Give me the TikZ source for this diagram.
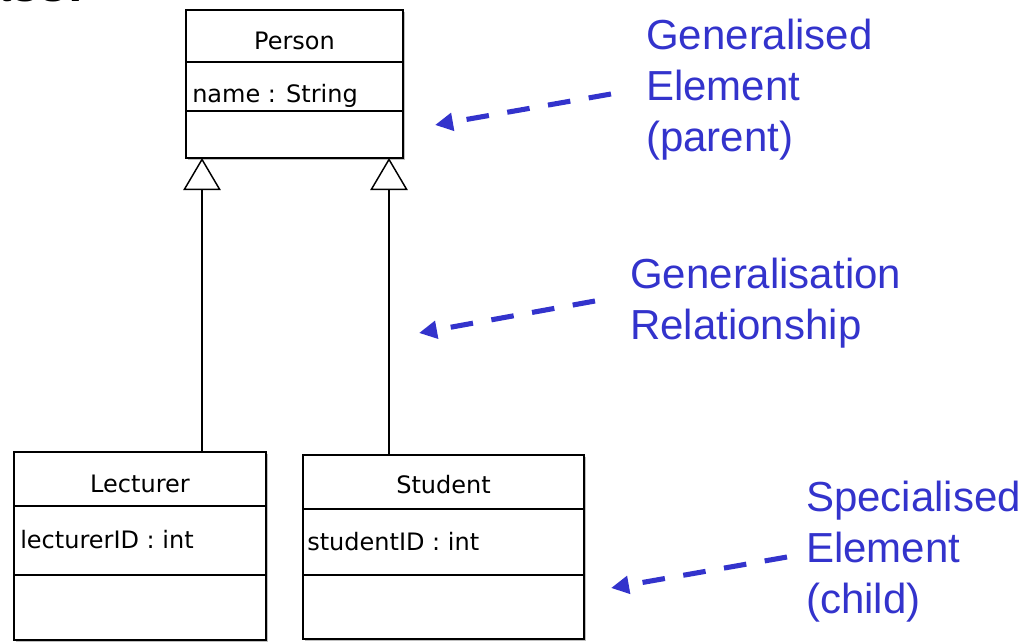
\documentclass[tikz,border=0pt]{standalone}
\usepackage{fontspec}
\setmainfont{Liberation Sans}
\newfontfamily\umlfont{DejaVu Sans}
\usetikzlibrary{arrows.meta,shadows}
\definecolor{noteblue}{RGB}{51,51,204}

\begin{document}
\begin{tikzpicture}[x=0.75pt,y=-0.75pt,
  umlbox/.style={draw=black, line width=1.5pt, fill=white, anchor=north west,
    inner sep=0pt, outer sep=0pt,
    drop shadow={shadow xshift=1.5pt, shadow yshift=-1.5pt, opacity=0.25, fill=black}},
  divider/.style={draw=black, line width=1.5pt},
  umltext/.style={font=\umlfont\fontsize{18pt}{21pt}\selectfont, inner sep=0pt},
  gen/.style={draw=black, line width=1.1pt,
    -{Triangle[open, length=24pt, width=28pt]}},
  note/.style={draw=noteblue, line width=3.8pt, dash pattern=on 17pt off 14pt,
    -{Triangle[length=13.5pt, width=13pt]}},
  notelabel/.style={text=noteblue, anchor=north west, align=left, inner sep=0pt,
    font=\fontsize{31.5pt}{38.25pt}\selectfont},
]
\useasboundingbox (0,0) rectangle (1029,642);
\clip (0,0) rectangle (1029,642);

% slide heading, cut off by the top edge
\node[anchor=base east, inner sep=0pt, font=\bfseries\fontsize{37.5pt}{40pt}\selectfont]
  (heading) at (84,2) {Class:};

% parent class
\node[umlbox, minimum width=162.75pt, minimum height=111pt] (person) at (186,10) {};
\draw[divider] (person.west |- 0,62) -- (person.east |- 0,62);
\draw[divider] (person.west |- 0,111) -- (person.east |- 0,111);
\node[umltext, anchor=base] (personname) at (294.5,50) {Person};
\node[umltext, anchor=base west] (personattr) at (192,103) {name : String};

% child classes
\node[umlbox, minimum width=189pt, minimum height=141pt] (lecturer) at (14,452) {};
\draw[divider] (lecturer.west |- 0,506) -- (lecturer.east |- 0,506);
\draw[divider] (lecturer.west |- 0,575) -- (lecturer.east |- 0,575);
\node[umltext, anchor=base] (lecturername) at (140,492) {Lecturer};
\node[umltext, anchor=base west] (lecturerattr) at (20,548) {lecturerID : int};

\node[umlbox, minimum width=210.75pt, minimum height=138pt] (student) at (303,455) {};
\draw[divider] (student.west |- 0,509) -- (student.east |- 0,509);
\draw[divider] (student.west |- 0,575) -- (student.east |- 0,575);
\node[umltext, anchor=base] (studentname) at (443.5,493) {Student};
\node[umltext, anchor=base west] (studentattr) at (307,550) {studentID : int};

% generalisation connectors
\coordinate (colL) at (202,0);
\coordinate (colR) at (389,0);
\draw[gen] (lecturer.north -| colL) -- (person.south -| colL);
\draw[gen] (student.north -| colR) -- (person.south -| colR);

% annotations
\node[notelabel] (labparent) at (646,19) {Generalised\\Element\\(parent)};
\node[notelabel] (labrel) at (630,258) {Generalisation\\Relationship};
\node[notelabel] (labchild) at (806,481) {Specialised\\Element\\(child)};

\coordinate (a1s) at (611,94);  \coordinate (a1e) at (435,125);
\coordinate (a2s) at (595,301); \coordinate (a2e) at (419,333);
\coordinate (a3s) at (787,557); \coordinate (a3e) at (611,588);
\draw[note] (a1s) -- (a1e);
\draw[note] (a2s) -- (a2e);
\draw[note] (a3s) -- (a3e);
\end{tikzpicture}
\end{document}
